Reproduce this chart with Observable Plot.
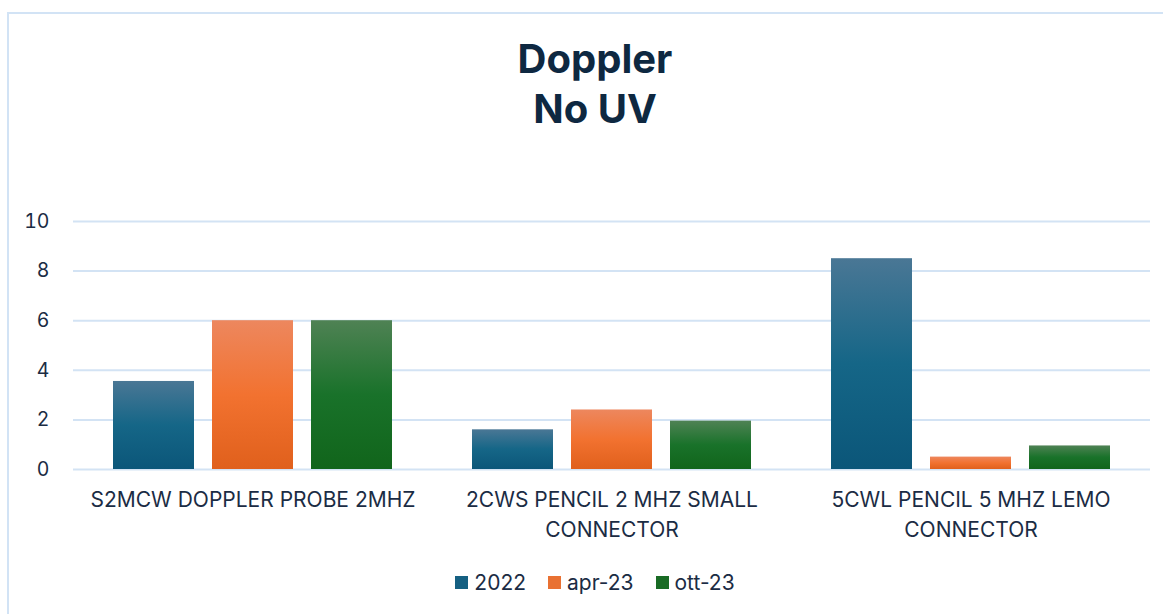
<!DOCTYPE html>
<html>
<head>
<meta charset="utf-8">
<script src="https://cdn.jsdelivr.net/npm/d3@7"></script>
<script src="https://cdn.jsdelivr.net/npm/@observablehq/plot@0.6"></script>
<style>
  html, body { margin: 0; padding: 0; background: #fff; width: 1163px; height: 614px; overflow: hidden; }
  body { position: relative; font-family: Inter, "Open Sans", sans-serif; color: #1b2c44; }
  #frame { position: absolute; left: 7px; top: 12px; width: 1172px; height: 700px; border: 2px solid #d2e3f5; box-sizing: content-box; }
  #title { position: absolute; left: 7px; width: 1176px; top: 34px; text-align: center; font-size: 40px; font-weight: 700; line-height: 50px; color: #0e2841; }
  #chart { position: absolute; left: 0; top: 200px; }
  #legend { position: absolute; left: 0px; width: 1190px; top: 570px; display: flex; justify-content: center; align-items: center; font-size: 21px; color: #1b2c44; }
  .item { display: flex; align-items: center; margin: 0 11px; }
  .sw { width: 13px; height: 13px; margin-right: 6px; }
</style>
</head>
<body>
<div id="frame"></div>
<div id="title">Doppler<br>No UV</div>
<div id="chart"></div>
<div id="legend"></div>
<script>
const categories = ["S2MCW DOPPLER PROBE 2MHZ", "2CWS PENCIL 2 MHZ SMALL CONNECTOR", "5CWL PENCIL 5 MHZ LEMO CONNECTOR"];
const categoryLabels = ["S2MCW DOPPLER PROBE 2MHZ", "2CWS PENCIL 2 MHZ SMALL\nCONNECTOR", "5CWL PENCIL 5 MHZ LEMO\nCONNECTOR"];
const seriesNames = ["2022", "apr-23", "ott-23"];
const values2022 = [3.55, 1.6, 8.5];
const valuesApr23 = [6, 2.4, 0.5];
const valuesOtt23 = [6, 1.95, 0.95];
const yTicks = [0, 2, 4, 6, 8, 10];
const seriesColors = ["#156082", "#e97132", "#196b24"];
const gradientStops = [
  ["#4a7795", "#156687", "#0b5679"],
  ["#ed875e", "#f27230", "#e0601c"],
  ["#4f8254", "#19722a", "#11651b"]
];

const seriesValues = [values2022, valuesApr23, valuesOtt23];
const data = [];
categories.forEach((c, i) => {
  seriesNames.forEach((s, j) => {
    data.push({category: c, series: s, value: seriesValues[j][i]});
  });
});
const labelMap = new Map(categories.map((c, i) => [c, categoryLabels[i]]));
const gradIds = seriesNames.map((s, i) => `grad${i}`);

const chart = Plot.plot({
  width: 1163,
  height: 350,
  marginLeft: 72,
  marginRight: 13,
  marginTop: 21,
  marginBottom: 81,
  style: {fontFamily: "Inter, 'Open Sans', sans-serif", color: "#1b2c44", background: "transparent", overflow: "visible"},
  fx: {domain: categories, padding: 0, label: null},
  x: {domain: seriesNames, axis: null, paddingInner: 0.182, paddingOuter: 0.404},
  y: {domain: [0, 10], label: null},
  color: {domain: seriesNames, range: gradIds.map(id => `url(#${id})`)},
  marks: [
    Plot.gridY(yTicks, {stroke: "#d3e3f4", strokeOpacity: 1, strokeWidth: 2}),
    Plot.axisY(yTicks, {tickSize: 0, tickPadding: 24, fontSize: 19.5, label: null}),
    Plot.axisFx({anchor: "bottom", tickSize: 0, tickPadding: 16, fontSize: 21, lineHeight: 1.43, tickFormat: d => labelMap.get(d), label: null}),
    Plot.barY(data, {fx: "category", x: "series", y: "value", fill: "series"})
  ]
});

const svg = d3.select(chart.tagName.toLowerCase() === "svg" ? chart : chart.querySelector("svg"));
const defs = svg.insert("defs", ":first-child");
gradIds.forEach((id, i) => {
  const g = defs.append("linearGradient").attr("id", id).attr("x1", 0).attr("y1", 0).attr("x2", 0).attr("y2", 1);
  g.append("stop").attr("offset", "0%").attr("stop-color", gradientStops[i][0]);
  g.append("stop").attr("offset", "50%").attr("stop-color", gradientStops[i][1]);
  g.append("stop").attr("offset", "100%").attr("stop-color", gradientStops[i][2]);
});
document.getElementById("chart").appendChild(chart);

const legend = d3.select("#legend");
seriesNames.forEach((s, i) => {
  const item = legend.append("div").attr("class", "item");
  item.append("div").attr("class", "sw").style("background", seriesColors[i]);
  item.append("span").text(s);
});
</script>
</body>
</html>
